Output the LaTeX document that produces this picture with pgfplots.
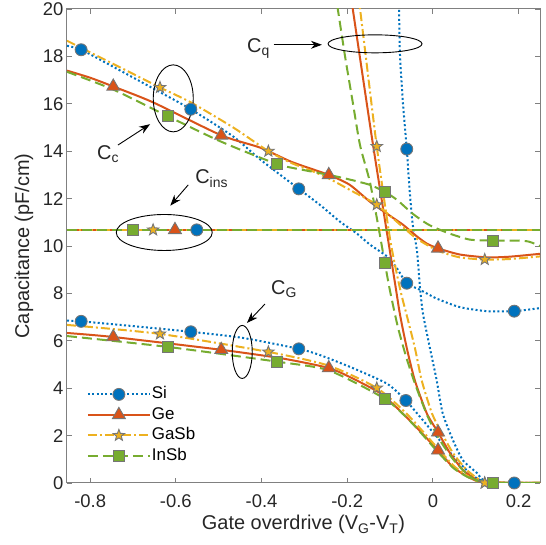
\documentclass[border=0pt]{standalone}
\usepackage{fontspec}
\setmainfont{Liberation Sans}
\usepackage{pgfplots}
\pgfplotsset{compat=1.18}
\usetikzlibrary{arrows.meta}

\definecolor{cSi}{RGB}{0,114,189}
\definecolor{cGe}{RGB}{217,83,25}
\definecolor{cGaSb}{RGB}{237,177,32}
\definecolor{cInSb}{RGB}{119,172,48}
\definecolor{mEdge}{RGB}{118,118,118}
\definecolor{axgray}{RGB}{128,128,128}

% filled five-pointed star (MATLAB 'p')
\pgfdeclareplotmark{pstar}{%
  \pgfpathmoveto{\pgfpointpolar{90}{\pgfplotmarksize}}%
  \pgfpathlineto{\pgfpointpolar{126}{0.42*\pgfplotmarksize}}%
  \pgfpathlineto{\pgfpointpolar{162}{\pgfplotmarksize}}%
  \pgfpathlineto{\pgfpointpolar{198}{0.42*\pgfplotmarksize}}%
  \pgfpathlineto{\pgfpointpolar{234}{\pgfplotmarksize}}%
  \pgfpathlineto{\pgfpointpolar{270}{0.42*\pgfplotmarksize}}%
  \pgfpathlineto{\pgfpointpolar{306}{\pgfplotmarksize}}%
  \pgfpathlineto{\pgfpointpolar{342}{0.42*\pgfplotmarksize}}%
  \pgfpathlineto{\pgfpointpolar{18}{\pgfplotmarksize}}%
  \pgfpathlineto{\pgfpointpolar{54}{0.42*\pgfplotmarksize}}%
  \pgfpathclose
  \pgfusepathqfillstroke
}

\pgfplotsset{
  lSi/.style={cSi, line width=2bp, dash pattern=on 2bp off 2.4bp},
  lGe/.style={cGe, line width=2bp, solid},
  lGaSb/.style={cGaSb, line width=2bp, dash pattern=on 9bp off 3bp on 2bp off 3bp},
  lInSb/.style={cInSb, line width=2bp, dash pattern=on 10bp off 5bp},
  mSi/.style={mark=*, mark size=6bp, mark options={solid, fill=cSi, draw=mEdge, line width=0.9bp}},
  mGe/.style={mark=triangle*, mark size=7.5bp, mark options={solid, fill=cGe, draw=mEdge, line width=0.9bp}},
  mGaSb/.style={mark=pstar, mark size=6bp, mark options={solid, fill=cGaSb, draw=mEdge, line width=0.9bp}},
  mInSb/.style={mark=square*, mark size=5.5bp, mark options={solid, fill=cInSb, draw=mEdge, line width=0.9bp}},
}

\begin{document}
\begin{tikzpicture}
\begin{axis}[
    scale only axis,
    width=473bp, height=474bp,
    xmin=-0.854, xmax=0.25,
    ymin=0, ymax=20,
    xtick={-0.8,-0.6,-0.4,-0.2,0,0.2},
    xticklabels={-0.8,-0.6,-0.4,-0.2,0,0.2},
    ytick={0,2,...,20},
    /pgf/number format/assume math mode=true,
    tick align=inside,
    major tick length=5bp,
    tick style={axgray, line width=0.8bp},
    axis line style={axgray, line width=1bp},
    ticklabel style={font=\fontsize{18.5}{20}\selectfont, text=black!85},
    xticklabel style={yshift=-8bp},
    xlabel={Gate overdrive (V\textsubscript{G}-V\textsubscript{T})},
    ylabel={Capacitance (pF/cm)},
    label style={font=\fontsize{20}{22}\selectfont, text=black!85},
    xlabel style={at={(axis description cs:0.5,-0.099)}, anchor=base},
    ylabel style={at={(axis description cs:-0.091,0.5)}, anchor=center},
    legend style={at={(axis cs:-0.815,4.2)}, anchor=north west, draw=none, fill=none,
        font=\fontsize{17}{19}\selectfont,
        nodes={inner sep=1bp, text height=12bp, text depth=3.5bp},
        row sep=3bp},
    legend cell align=left,
    legend image code/.code={\draw[mark repeat=2,mark phase=2,#1] plot coordinates {(0bp,0bp) (31bp,0bp) (62bp,0bp)};},
]

% ---------- Si ----------
\addplot[lSi, smooth, tension=0.4, forget plot] coordinates {
 (-0.854,18.45) (-0.821,18.28) (-0.75,17.6) (-0.644,16.56) (-0.565,15.77)
 (-0.466,14.62) (-0.403,13.65) (-0.313,12.41) (-0.264,11.74) (-0.217,11.03)
 (-0.177,10.52) (-0.147,10.06) (-0.107,9.56) (-0.084,9.06) (-0.061,8.43)
 (-0.03,8.15) (0.009,7.78) (0.063,7.42) (0.126,7.25) (0.19,7.25) (0.25,7.38)};
\addplot[lSi, smooth, tension=0.4, forget plot] coordinates {
 (-0.082,22) (-0.079,20) (-0.077,18.15) (-0.070,16.06) (-0.061,14.09)
 (-0.054,12.29) (-0.047,10.9) (-0.037,9.77) (-0.030,8.22) (-0.023,7.13)
 (-0.007,5.7) (0.009,4.32) (0.023,2.93) (0.047,1.8) (0.07,0.96)
 (0.103,0.42) (0.117,0.13) (0.15,0.02) (0.25,0)};
\addplot[lSi, smooth, tension=0.4, forget plot] coordinates {
 (-0.854,6.85) (-0.821,6.82) (-0.7,6.62) (-0.565,6.38) (-0.443,6.12)
 (-0.313,5.66) (-0.264,5.40) (-0.187,4.85) (-0.107,4.19) (-0.063,3.48)
 (-0.023,2.64) (0.016,1.8) (0.056,0.96) (0.086,0.42) (0.11,0.13)
 (0.15,0.01) (0.25,0)};
\addplot[lSi, forget plot] coordinates {(-0.854,10.68) (0.25,10.68)};
\addplot[only marks, mSi, forget plot] coordinates {
 (-0.821,18.28) (-0.565,15.77) (-0.313,12.41) (-0.061,8.43) (0.19,7.25)
 (-0.061,14.09)
 (-0.821,6.82) (-0.565,6.38) (-0.313,5.66) (-0.063,3.48) (0.19,0)
 (-0.551,10.68)};

% ---------- Ge ----------
\addplot[lGe, smooth, tension=0.4, forget plot] coordinates {
 (-0.854,17.4) (-0.8,17.1) (-0.746,16.73) (-0.653,16.06) (-0.494,14.67)
 (-0.403,14.15) (-0.33,13.55) (-0.243,13.0) (-0.194,12.58) (-0.147,11.87)
 (-0.107,11.36) (-0.07,10.9) (-0.037,10.4) (-0.014,10.1) (0.012,9.9)
 (0.063,9.64) (0.126,9.52) (0.18,9.55) (0.25,9.67)};
\addplot[lGe, smooth, tension=0.4, forget plot] coordinates {
 (-0.203,22) (-0.187,20) (-0.14,14.3) (-0.089,8.5) (-0.077,7.13)
 (-0.061,5.7) (-0.042,4.32) (-0.014,2.93) (0.012,2.14) (0.04,1.26)
 (0.07,0.55) (0.103,0.13) (0.13,0.02) (0.25,0)};
\addplot[lGe, smooth, tension=0.4, forget plot] coordinates {
 (-0.854,6.33) (-0.746,6.16) (-0.494,5.62) (-0.35,5.25) (-0.243,4.85)
 (-0.186,4.4) (-0.12,3.75) (-0.06,2.75) (0.012,1.38) (0.047,0.67)
 (0.086,0.22) (0.12,0.03) (0.25,0)};
\addplot[lGe, forget plot] coordinates {(-0.854,10.68) (0.25,10.68)};
\addplot[only marks, mGe, forget plot] coordinates {
 (-0.746,16.73) (-0.494,14.67) (-0.243,13.0) (0.012,9.9)
 (0.012,2.14)
 (-0.746,6.16) (-0.494,5.62) (-0.243,4.85) (0.012,1.38)
 (-0.602,10.68)};

% ---------- GaSb ----------
\addplot[lGaSb, smooth, tension=0.4, forget plot] coordinates {
 (-0.854,18.66) (-0.75,17.72) (-0.637,16.69) (-0.565,16.06) (-0.466,15.0)
 (-0.384,14.0) (-0.33,13.5) (-0.28,13.15) (-0.243,12.85) (-0.187,12.3)
 (-0.131,11.74) (-0.07,10.8) (-0.037,10.3) (0.012,9.8) (0.063,9.52)
 (0.121,9.43) (0.18,9.45) (0.25,9.56)};
\addplot[lGaSb, smooth, tension=0.4, forget plot] coordinates {
 (-0.185,22) (-0.170,20) (-0.131,14.2) (-0.1,10.3) (-0.077,8.22)
 (-0.06,7.0) (-0.042,5.7) (-0.026,4.32) (-0.002,2.93) (0.021,2.1)
 (0.047,1.26) (0.079,0.55) (0.11,0.13) (0.14,0.02) (0.25,0)};
\addplot[lGaSb, smooth, tension=0.4, forget plot] coordinates {
 (-0.854,6.67) (-0.637,6.29) (-0.384,5.53) (-0.243,4.95) (-0.131,4.01)
 (-0.06,2.9) (0.012,1.45) (0.05,0.7) (0.09,0.2) (0.121,0.02) (0.25,0)};
\addplot[lGaSb, forget plot] coordinates {(-0.854,10.68) (0.25,10.68)};
\addplot[only marks, mGaSb, forget plot] coordinates {
 (-0.637,16.69) (-0.384,14.0) (-0.131,11.74) (0.121,9.43)
 (-0.131,14.2) (0.121,0)
 (-0.637,6.29) (-0.384,5.53) (-0.131,4.01) (0.121,0)
 (-0.653,10.68)};

% ---------- InSb ----------
\addplot[lInSb, smooth, tension=0.4, forget plot] coordinates {
 (-0.854,17.35) (-0.746,16.6) (-0.618,15.47) (-0.494,14.4) (-0.364,13.46)
 (-0.3,13.2) (-0.243,13.0) (-0.2,12.83) (-0.147,12.58) (-0.112,12.28)
 (-0.084,11.95) (-0.047,11.36) (-0.01,10.9) (0.035,10.55) (0.086,10.27)
 (0.14,10.23) (0.2,10.23) (0.225,10.18) (0.25,10.0)};
\addplot[lInSb, smooth, tension=0.4, forget plot] coordinates {
 (-0.24,22) (-0.222,20) (-0.205,18.0) (-0.187,16.06) (-0.17,14.25)
 (-0.147,12.7) (-0.128,10.9) (-0.112,9.27) (-0.1,8.1) (-0.082,6.6)
 (-0.062,5.3) (-0.04,4.1) (-0.012,2.8) (0.015,1.85) (0.045,1.05)
 (0.075,0.45) (0.1,0.12) (0.13,0.01) (0.25,0)};
\addplot[lInSb, smooth, tension=0.4, forget plot] coordinates {
 (-0.854,6.2) (-0.618,5.74) (-0.364,5.12) (-0.243,4.75) (-0.112,3.55)
 (-0.05,2.55) (0.012,1.3) (0.05,0.6) (0.09,0.18) (0.14,0) (0.25,0)};
\addplot[lInSb, forget plot] coordinates {(-0.854,10.68) (0.25,10.68)};
\addplot[only marks, mInSb, forget plot] coordinates {
 (-0.618,15.47) (-0.364,13.46) (-0.112,12.28) (0.14,10.23)
 (-0.112,9.27)
 (-0.618,5.74) (-0.364,5.12) (-0.112,3.55) (0.14,0)
 (-0.700,10.68)};

% ---------- legend ----------
\addlegendimage{lSi, mSi}\addlegendentry{Si}
\addlegendimage{lGe, mGe}\addlegendentry{Ge}
\addlegendimage{lGaSb, mGaSb}\addlegendentry{GaSb}
\addlegendimage{lInSb, mInSb}\addlegendentry{InSb}

% ---------- annotations ----------
\begin{scope}[line width=0.9bp, black]
\draw (axis cs:-0.135,18.53) ellipse [x radius=47bp, y radius=9bp];
\draw (axis cs:-0.606,16.23) ellipse [x radius=20bp, y radius=33.5bp];
\draw (axis cs:-0.627,10.57) ellipse [x radius=48bp, y radius=18bp];
\draw (axis cs:-0.445,5.53) ellipse [x radius=10bp, y radius=26.5bp];
\draw[-{Stealth[length=11bp,width=8bp]}] (axis cs:-0.372,18.49) -- (axis cs:-0.259,18.49);
\draw[-{Stealth[length=11bp,width=8bp]}] (axis cs:-0.735,14.26) -- (axis cs:-0.66,15.14);
\draw[-{Stealth[length=11bp,width=8bp]}] (axis cs:-0.571,12.58) -- (axis cs:-0.613,11.70);
\draw[-{Stealth[length=11bp,width=8bp]}] (axis cs:-0.392,7.55) -- (axis cs:-0.434,6.75);
\end{scope}
\begin{scope}[every node/.style={font=\fontsize{20}{22}\selectfont, text=black!85, inner sep=0pt, anchor=base west}]
\node at (axis cs:-0.434,18.15) {C\textsubscript{q}};
\node at (axis cs:-0.784,13.67) {C\textsubscript{c}};
\node at (axis cs:-0.555,12.62) {C\textsubscript{ins}};
\node at (axis cs:-0.378,7.97) {C\textsubscript{G}};
\end{scope}
\end{axis}
\pgfresetboundingbox
\useasboundingbox ([shift={(-67bp,-62bp)}]current axis.south west) rectangle ([shift={(6bp,9bp)}]current axis.north east);
\end{tikzpicture}
\end{document}
